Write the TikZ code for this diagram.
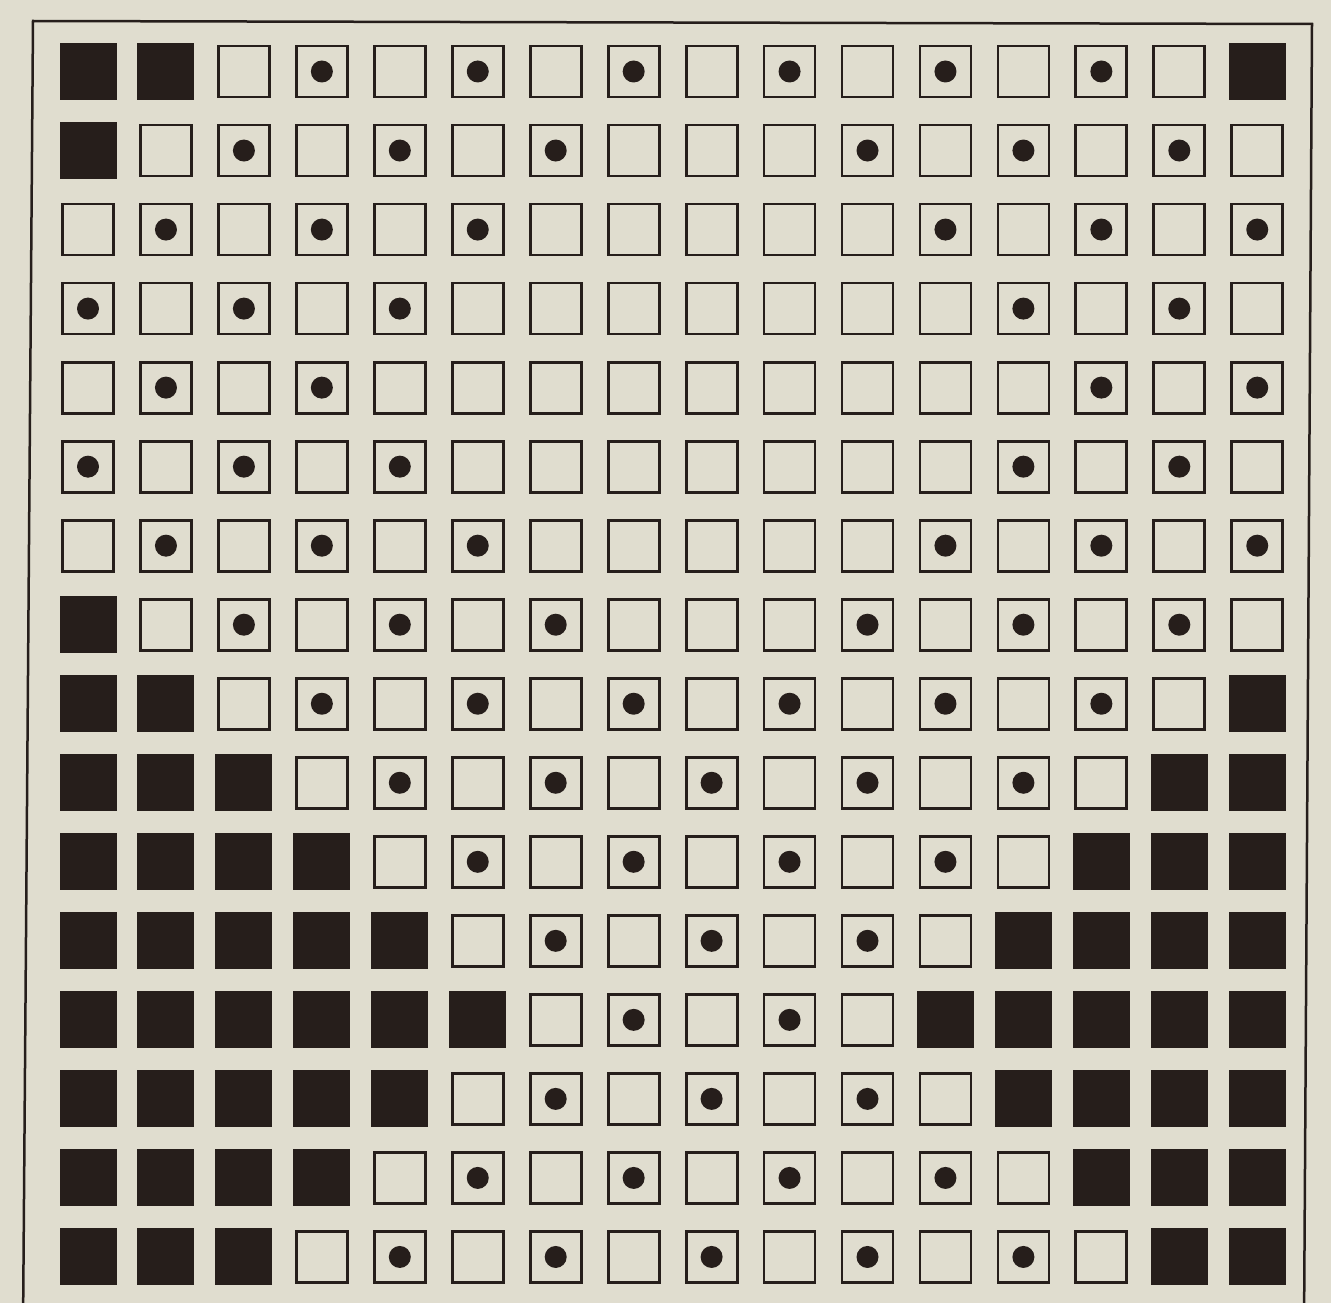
\documentclass[tikz,border=0pt]{standalone}
\definecolor{paper}{RGB}{224,221,207}
\definecolor{ink}{RGB}{38,30,27}
\tikzset{
  cellE/.style={draw=ink, line width=2.8pt, fill=paper, minimum size=51pt, inner sep=0pt},
  cellD/.style={cellE, path picture={\fill[ink] (path picture bounding box.center) circle (11pt);}},
  cellB/.style={fill=ink, draw=none, minimum size=57pt, inner sep=0pt},
  frame/.style={draw=ink, line width=2.5pt}
}
\begin{document}
\begin{tikzpicture}[x=1pt,y=-1pt]
\clip (0,0) rectangle (1331,1303);
\fill[paper] (0,0) rectangle (1331,1303);
\draw[frame] (33,21) -- (1312,24) -- (1304,1330) -- (23,1330) -- cycle;
\foreach \row [count=\r] in {%
{B,B,E,D,E,D,E,D,E,D,E,D,E,D,E,B},%
{B,E,D,E,D,E,D,E,E,E,D,E,D,E,D,E},%
{E,D,E,D,E,D,E,E,E,E,E,D,E,D,E,D},%
{D,E,D,E,D,E,E,E,E,E,E,E,D,E,D,E},%
{E,D,E,D,E,E,E,E,E,E,E,E,E,D,E,D},%
{D,E,D,E,D,E,E,E,E,E,E,E,D,E,D,E},%
{E,D,E,D,E,D,E,E,E,E,E,D,E,D,E,D},%
{B,E,D,E,D,E,D,E,E,E,D,E,D,E,D,E},%
{B,B,E,D,E,D,E,D,E,D,E,D,E,D,E,B},%
{B,B,B,E,D,E,D,E,D,E,D,E,D,E,B,B},%
{B,B,B,B,E,D,E,D,E,D,E,D,E,B,B,B},%
{B,B,B,B,B,E,D,E,D,E,D,E,B,B,B,B},%
{B,B,B,B,B,B,E,D,E,D,E,B,B,B,B,B},%
{B,B,B,B,B,E,D,E,D,E,D,E,B,B,B,B},%
{B,B,B,B,E,D,E,D,E,D,E,D,E,B,B,B},%
{B,B,B,E,D,E,D,E,D,E,D,E,D,E,B,B}%
}{
  \foreach \t [count=\c] in \row {
    \node[cell\t] (cell-\r-\c) at ({88+(\c-1)*77.95},{71.5+(\r-1)*79.03}) {};
  }
}
\end{tikzpicture}
\end{document}
